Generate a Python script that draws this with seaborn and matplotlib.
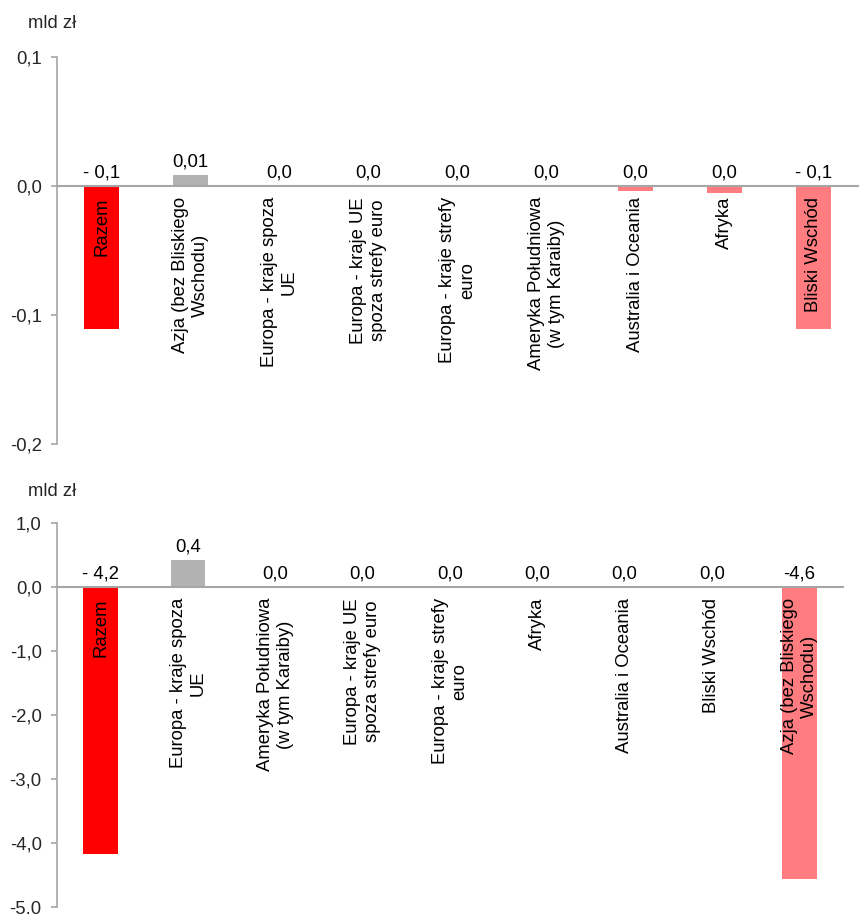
import matplotlib
matplotlib.use("Agg")
import matplotlib.pyplot as plt
from matplotlib.ticker import FuncFormatter
import seaborn as sns
import pandas as pd

sns.set_style("white")
plt.rcParams["font.family"] = ["Liberation Sans", "DejaVu Sans"]

RED = "#FF0000"
GRAY = "#B2B2B2"
PINK = "#FF7C80"
AXIS = "#A6A6A6"
FS = 13.3

# Panel 1: small values
top_cats = ["Razem", "Azja (bez Bliskiego\nWschodu)", "Europa - kraje spoza\nUE",
            "Europa - kraje UE\nspoza strefy euro", "Europa - kraje strefy\neuro",
            "Ameryka Południowa\n(w tym Karaiby)", "Australia i Oceania", "Afryka",
            "Bliski Wschód"]
top_vals = [-0.111, 0.0085, 0.0, 0.0, 0.0, 0.0, -0.004, -0.0054, -0.111]
top_labels = ["- 0,1", "0,01", "0,0", "0,0", "0,0", "0,0", "0,0", "0,0", "- 0,1"]
top_colors = [RED, GRAY, GRAY, GRAY, GRAY, GRAY, PINK, PINK, PINK]
top_ticks = [0.1, 0.0, -0.1, -0.2]

# Panel 2
bot_cats = ["Razem", "Europa - kraje spoza\nUE", "Ameryka Południowa\n(w tym Karaiby)",
            "Europa - kraje UE\nspoza strefy euro", "Europa - kraje strefy\neuro",
            "Afryka", "Australia i Oceania", "Bliski Wschód",
            "Azja (bez Bliskiego\nWschodu)"]
bot_vals = [-4.17, 0.42, 0.0, 0.0, 0.0, -0.005, -0.005, -0.005, -4.57]
bot_labels = ["- 4,2", "0,4", "0,0", "0,0", "0,0", "0,0", "0,0", "0,0", "-4,6"]
bot_colors = [RED, GRAY, GRAY, GRAY, GRAY, PINK, PINK, PINK, PINK]
bot_ticks = [1.0, 0.0, -1.0, -2.0, -3.0, -4.0, -5.0]

W, H = 859, 914
fig = plt.figure(figsize=(W / 100, H / 100), dpi=100)


def panel(rect, cats, vals, labels, colors, ticks, unit_xy):
    ax = fig.add_axes(rect)
    df = pd.DataFrame({"cat": cats, "val": vals})
    sns.barplot(data=df, x="cat", y="val", hue="cat", palette=colors,
                width=0.4, legend=False, ax=ax, saturation=1, linewidth=0)
    n = len(cats)
    ax.set_xlim(-0.5, n - 0.5)
    ax.set_ylim(min(ticks), max(ticks))
    ax.set_yticks(ticks)
    ax.yaxis.set_major_formatter(FuncFormatter(lambda v, p: f"{v:.1f}".replace(".", ",")))
    ax.set_xlabel("")
    ax.set_ylabel("")
    for s in ["top", "right"]:
        ax.spines[s].set_visible(False)
    ax.spines["left"].set_color(AXIS)
    ax.spines["bottom"].set_color(AXIS)
    ax.spines["bottom"].set_linewidth(1.5)
    ax.spines["left"].set_linewidth(1.2)
    ax.spines["bottom"].set_position(("data", 0))
    ax.set_xticks([i + 0.5 for i in range(n)])
    ax.set_xticklabels([])
    ax.tick_params(axis="x", direction="out", length=5, color=AXIS, width=1.2)
    ax.tick_params(axis="y", direction="out", length=4, color=AXIS, width=1.2,
                   labelsize=FS, pad=7, left=True)
    for i, (c, v, t) in enumerate(zip(cats, vals, labels)):
        ax.annotate(c, xy=(i, 0), xytext=(0, -8), textcoords="offset points",
                    rotation=90, ha="center", va="top", multialignment="center",
                    fontsize=FS, color="black")
        ax.annotate(t, xy=(i, max(v, 0)), xytext=(0, 3), textcoords="offset points",
                    ha="center", va="bottom", fontsize=FS, color="black")
    fig.text(unit_xy[0], unit_xy[1], "mld zł", fontsize=FS, ha="left", va="center")
    return ax


panel([57 / W, 1 - 444 / H, (858 - 57) / W, (444 - 57) / H],
      top_cats, top_vals, top_labels, top_colors, top_ticks, (28 / W, 1 - 23 / H))
panel([57 / W, 1 - 907 / H, (843 - 57) / W, (907 - 523) / H],
      bot_cats, bot_vals, bot_labels, bot_colors, bot_ticks, (28 / W, 1 - 492 / H))

fig.savefig("out.png", dpi=100)
